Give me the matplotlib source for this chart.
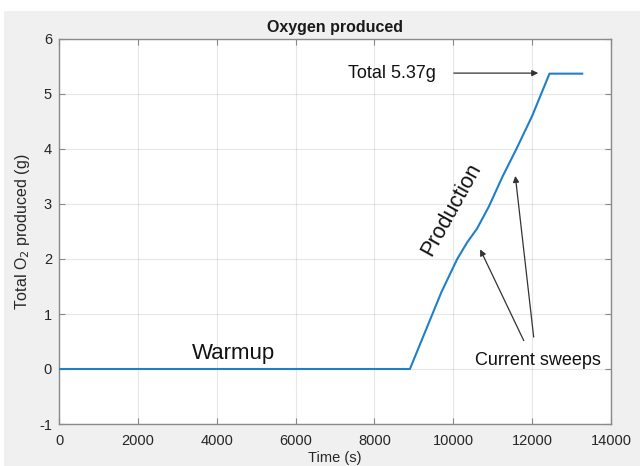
import matplotlib
matplotlib.use("Agg")
import matplotlib.pyplot as plt
from matplotlib.patches import Rectangle

plt.rcParams['font.family'] = ['Liberation Sans', 'DejaVu Sans']
plt.rcParams['axes.unicode_minus'] = False

time_s = [0, 8900, 9300, 9700, 10100, 10350, 10600, 10900, 11250, 11600, 12000, 12440, 13270]
oxygen_g = [0, 0, 0.7, 1.4, 2.0, 2.3, 2.55, 2.95, 3.5, 4.0, 4.6, 5.37, 5.37]
x_ticks = [0, 2000, 4000, 6000, 8000, 10000, 12000, 14000]
y_ticks = [-1, 0, 1, 2, 3, 4, 5, 6]

fig = plt.figure(figsize=(6.4, 4.66), dpi=100)
fig.patch.set_facecolor('white')
fig.patches.append(Rectangle((4/640, 0), 1, 1 - 11/466, transform=fig.transFigure,
                             facecolor='#f0f0f0', edgecolor='none', zorder=-10))

ax = fig.add_axes([59/640, 1 - 424/466, (611-59)/640, (424-39)/466])
ax.set_facecolor('white')
ax.plot(time_s, oxygen_g, color='#1f80c8', lw=1.5, zorder=3)

ax.set_xlim(0, 14000)
ax.set_ylim(-1, 6)
ax.set_xticks(x_ticks)
ax.set_yticks(y_ticks)
ax.grid(True, color='#262626', alpha=0.11, lw=0.8)
ax.tick_params(direction='in', length=4, width=0.8, top=True, right=True,
               labelsize=10.5, colors='#888888', labelcolor='#262626')
ax.tick_params(axis='x', pad=7)
ax.tick_params(axis='y', pad=5)
for s in ax.spines.values():
    s.set_color('#8a8a8a')
    s.set_linewidth(1.0)

ax.set_title('Oxygen produced', fontsize=11.5, fontweight='bold', color='#1a1a1a', pad=5)
ax.set_xlabel('Time (s)', fontsize=10.5, color='#262626', labelpad=2.5)
ax.set_ylabel('Total O$_2$ produced (g)', fontsize=11.5, color='#262626', labelpad=5)

ax.text(4438, 0.29, 'Warmup', fontsize=16, ha='center', va='center', color='#111111')
ax.text(9950, 2.9, 'Production', fontsize=15.5, ha='center', va='center', rotation=61,
        color='#111111', rotation_mode='anchor')

ax.text(7330, 5.38, 'Total 5.37g', fontsize=13, ha='left', va='center', color='#111111')
ax.annotate('', xy=(12224, 5.38), xytext=(9942, 5.38),
            arrowprops=dict(arrowstyle='-|>', color='#333333', lw=0.9, mutation_scale=9))

ax.text(12148, 0.16, 'Current sweeps', fontsize=13, ha='center', va='center', color='#111111')
ax.annotate('', xy=(10652, 2.22), xytext=(11818, 0.47),
            arrowprops=dict(arrowstyle='-|>', color='#333333', lw=0.9, mutation_scale=9))
ax.annotate('', xy=(11565, 3.56), xytext=(12047, 0.53),
            arrowprops=dict(arrowstyle='-|>', color='#333333', lw=0.9, mutation_scale=9))

fig.savefig('out.png', dpi=100, facecolor=fig.get_facecolor())
